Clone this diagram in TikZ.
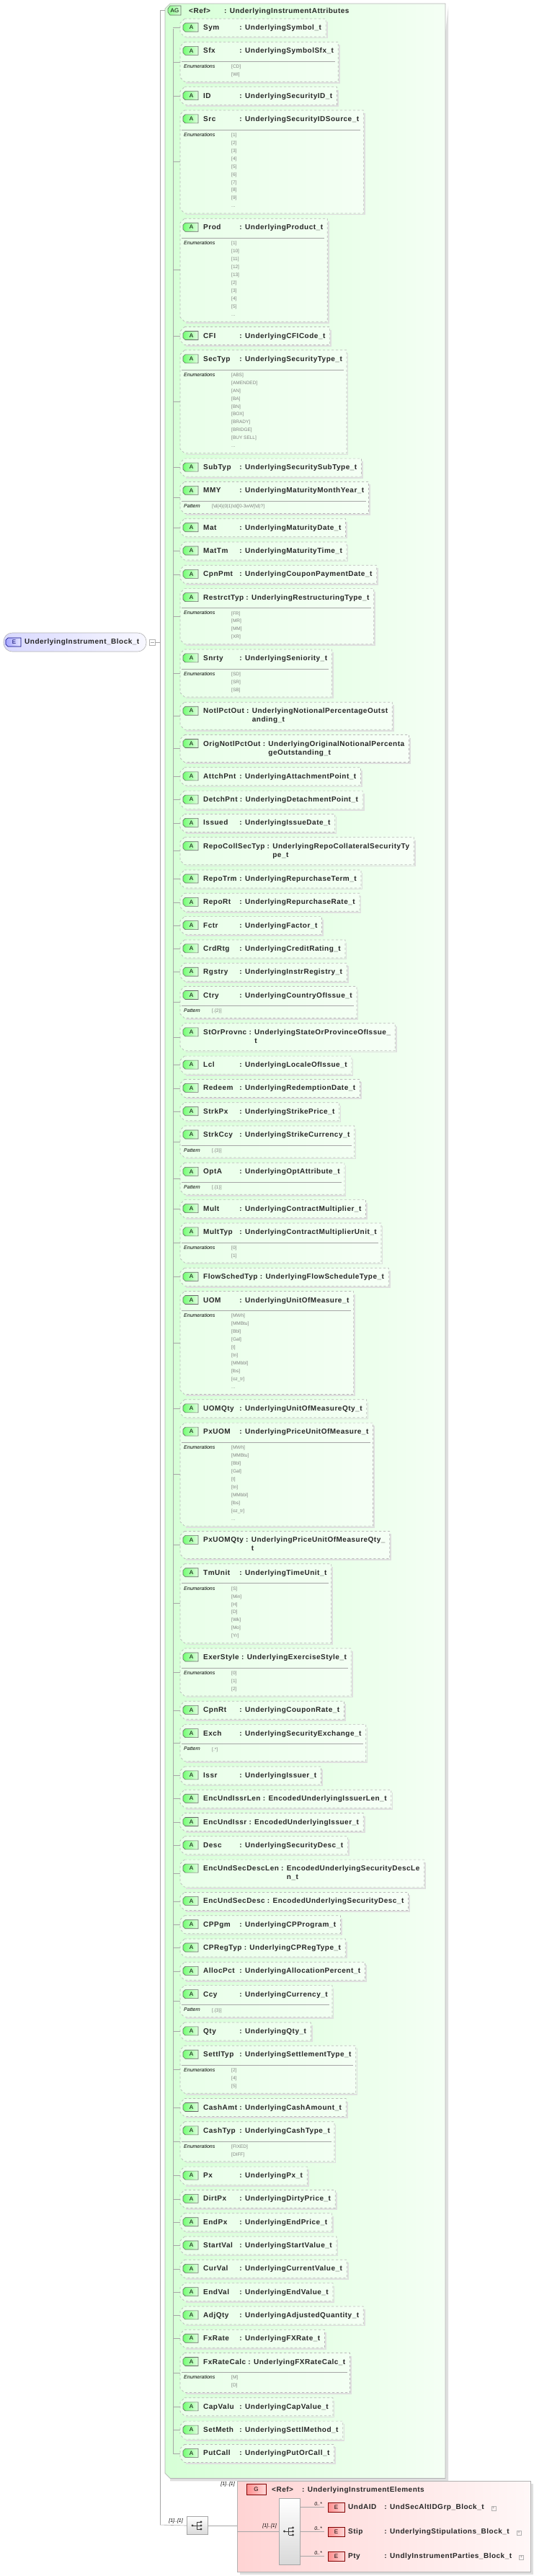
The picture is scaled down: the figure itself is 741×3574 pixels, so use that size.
\documentclass[tikz,border=0pt]{standalone}
\usepackage{fontspec}
\setmainfont{Liberation Sans}
\newfontfamily\ttlfont{Liberation Sans}[LetterSpace=5]
\usetikzlibrary{calc}
\pgfdeclarelayer{bg}\pgfdeclarelayer{boxes}\pgfsetlayers{bg,boxes,main}
\newlength\nmw
\newcommand\nm[1]{\settowidth\nmw{#1}\ifdim\nmw<47pt\nmw=47pt\fi\makebox[\nmw][l]{#1}\ }
\newcommand\ev[1]{[#1]}
\def\ycur{38}
\tikzset{
 ttl/.style={font=\ttlfont\bfseries\fontsize{10}{12}\selectfont, inner sep=0pt, text=black!85},
 enl/.style={font=\itshape\fontsize{7}{10.95}\selectfont, inner sep=0pt},
 env/.style={font=\fontsize{6.5}{10.95}\selectfont, text=gray, inner sep=0pt, align=left},
 abox/.style={draw=gray!55, dashed, fill=white, fill opacity=0.45, line width=0.7pt},
 shad/.style={draw=gray!25, line width=1.6pt},
 sep/.style={draw=gray!70, line width=0.6pt},
 conn/.style={draw=gray!70, line width=0.6pt},
 abadge/.style={draw=black!60, left color=green!55!white, right color=green!12!white, line width=0.6pt},
 ebadge/.style={draw=red!50!black, left color=red!45!white, right color=red!15!white, line width=0.6pt},
 bfont/.style={font=\fontsize{8}{8}\selectfont, inner sep=0pt},
 seqbox/.style={draw=gray!70, top color=white, bottom color=gray!30, line width=0.6pt, inner sep=0pt},
 card/.style={font=\itshape\fontsize{7}{8}\selectfont, inner sep=0pt},
}
\newcommand\attr[6]{%
 \pgfmathsetmacro\yt{\ycur}%
 \pgfmathsetmacro\ex{#6}%
 \pgfmathsetmacro\ytop{-\yt+12}%
 \pgfmathsetmacro\ybot{-\yt-13-\ex}%
 \node[ttl, anchor=base west] (#1t) at (282,-\yt-3.5) {\nm{#2}: \begin{tabular}[t]{@{}l@{}}#3\end{tabular}};
 \path let \p1=(#1t.east) in \pgfextra{\pgfmathsetmacro\xq{\x1+6}\xdef\xr{\xq}};
 \ifnum#4=1
  \node[enl, anchor=north west] (#1l) at (255,-\yt-19) {Enumerations};
  \node[env, anchor=north west] (#1d) at (321,-\yt-19.5) {#5};
 \fi
 \ifnum#4=2
  \node[enl, anchor=north west] (#1l) at (255,-\yt-19) {Pattern};
  \node[env, anchor=north west] (#1d) at (294,-\yt-19.5) {#5};
 \fi
 \ifnum#4>0
  \path let \p1=(#1d.east) in \pgfextra{\pgfmathsetmacro\xq{max(\xr,\x1+8)}\xdef\xr{\xq}};
 \fi
 \begin{pgfonlayer}{boxes}
  \draw[shad] (\xr+1.6,\ytop-4) -- (\xr+1.6,\ybot-1.6) -- (258,\ybot-1.6);
  \draw[abox] (256,\ytop) -- (\xr,\ytop) -- (\xr,\ybot) -- (256,\ybot) -- (250,\ybot+6) -- (250,\ytop-6) -- cycle;
  \ifnum#4>0 \draw[sep] (252,-\yt-15) -- (\xr-4,-\yt-15); \fi
 \end{pgfonlayer}
 \draw[abadge] (257,-\yt+6) -- (275,-\yt+6) -- (275,-\yt-6) -- (257,-\yt-6) -- (254,-\yt-3) -- (254,-\yt+3) -- cycle;
 \node[bfont] (#1b) at (265.5,-\yt) {A};
 \coordinate (#1c) at (250,{(\ytop+\ybot)/2});
 \draw[conn] (#1c -| spine) -- (#1c);
 \pgfmathsetmacro\lm{(\ytop+\ybot)/2}\xdef\lastmid{\lm}%
 \xdef\lastbot{\ybot}%
 \pgfmathsetmacro\nx{\yt+32.3+\ex}\xdef\ycur{\nx}%
}
\newcommand\elem[4]{% id, name, type, ycenter
 \node[ttl, anchor=base west] (#1t) at (483,-#4-3.5) {\nm{#2}: #3};
 \path let \p1=(#1t.east) in \pgfextra{\pgfmathsetmacro\xq{\x1+6}\xdef\xr{\xq}};
 \begin{pgfonlayer}{boxes}
  \draw[shad] (\xr+1.6,-#4+9) -- (\xr+1.6,-#4-14.6) -- (453,-#4-14.6);
  \draw[abox, fill=red!3] (450,-#4+13) rectangle (\xr,-#4-13);
 \end{pgfonlayer}
 \draw[ebadge] (455,-#4+6) rectangle (478,-#4-7);
 \node[bfont] (#1b) at (466.5,-#4-0.5) {E};
 \node[draw=gray!60, minimum size=6pt, inner sep=0pt, font=\fontsize{6}{6}\selectfont, text=gray] (#1p) at (\xr+7,-#4-2) {+};
 \coordinate (#1c) at (450,-#4);
 \draw[conn] (#1c -| iseq.east) -- (#1c);
 \node[card, anchor=south east] (#1k) at (447,-#4+1) {0..*};
}
\begin{document}
\begin{tikzpicture}[x=1pt,y=1pt]
\useasboundingbox (0,0) rectangle (741,-3574);
\coordinate (spine) at (240,0);
% header
\draw[abadge, left color=green!45!white, right color=green!15!white] (236,-8) -- (251,-8) -- (251,-21) -- (236,-21) -- (233,-17) -- (233,-12) -- cycle;
\node[bfont] (agb) at (242.5,-14.5) {AG};
\node[ttl, anchor=base west] (agref) at (262,-18) {<Ref>};
\node[ttl, anchor=base west] (agtype) at (311,-18) {: UnderlyingInstrumentAttributes};
% rows
\attr{sym}{Sym}{UnderlyingSymbol\_t}{0}{}{0}
\attr{sfx}{Sfx}{UnderlyingSymbolSfx\_t}{1}{\ev{CD}\\\ev{WI}}{8+22}
\attr{id}{ID}{UnderlyingSecurityID\_t}{0}{}{0}
\attr{src}{Src}{UnderlyingSecurityIDSource\_t}{1}{\ev{1}\\\ev{2}\\\ev{3}\\\ev{4}\\\ev{5}\\\ev{6}\\\ev{7}\\\ev{8}\\\ev{9}\\...}{8+110}
\attr{prod}{Prod}{UnderlyingProduct\_t}{1}{\ev{1}\\\ev{10}\\\ev{11}\\\ev{12}\\\ev{13}\\\ev{2}\\\ev{3}\\\ev{4}\\\ev{5}\\...}{8+110}
\attr{cfi}{CFI}{UnderlyingCFICode\_t}{0}{}{0}
\attr{sectyp}{SecTyp}{UnderlyingSecurityType\_t}{1}{\ev{ABS}\\\ev{AMENDED}\\\ev{AN}\\\ev{BA}\\\ev{BN}\\\ev{BOX}\\\ev{BRADY}\\\ev{BRIDGE}\\\ev{BUY SELL}\\...}{8+110}
\attr{subtyp}{SubTyp}{UnderlyingSecuritySubType\_t}{0}{}{0}
\attr{mmy}{MMY}{UnderlyingMaturityMonthYear\_t}{2}{[\textbackslash d\{4\}(0|1)\textbackslash d([0-3wW]\textbackslash d)?]}{19}
\attr{mat}{Mat}{UnderlyingMaturityDate\_t}{0}{}{0}
\attr{mattm}{MatTm}{UnderlyingMaturityTime\_t}{0}{}{0}
\attr{cpnpmt}{CpnPmt}{UnderlyingCouponPaymentDate\_t}{0}{}{0}
\attr{restrct}{RestrctTyp}{UnderlyingRestructuringType\_t}{1}{\ev{FR}\\\ev{MR}\\\ev{MM}\\\ev{XR}}{8+44}
\attr{snrty}{Snrty}{UnderlyingSeniority\_t}{1}{\ev{SD}\\\ev{SR}\\\ev{SB}}{8+33}
\attr{notl}{NotlPctOut}{UnderlyingNotionalPercentageOutst\\anding\_t}{0}{}{13}
\attr{orig}{OrigNotlPctOut}{UnderlyingOriginalNotionalPercenta\\geOutstanding\_t}{0}{}{13}
\attr{attch}{AttchPnt}{UnderlyingAttachmentPoint\_t}{0}{}{0}
\attr{detch}{DetchPnt}{UnderlyingDetachmentPoint\_t}{0}{}{0}
\attr{issued}{Issued}{UnderlyingIssueDate\_t}{0}{}{0}
\attr{repocoll}{RepoCollSecTyp}{UnderlyingRepoCollateralSecurityTy\\pe\_t}{0}{}{13}
\attr{repotrm}{RepoTrm}{UnderlyingRepurchaseTerm\_t}{0}{}{0}
\attr{report}{RepoRt}{UnderlyingRepurchaseRate\_t}{0}{}{0}
\attr{fctr}{Fctr}{UnderlyingFactor\_t}{0}{}{0}
\attr{crdrtg}{CrdRtg}{UnderlyingCreditRating\_t}{0}{}{0}
\attr{rgstry}{Rgstry}{UnderlyingInstrRegistry\_t}{0}{}{0}
\attr{ctry}{Ctry}{UnderlyingCountryOfIssue\_t}{2}{[.\{2\}]}{19}
\attr{stor}{StOrProvnc}{UnderlyingStateOrProvinceOfIssue\_\\t}{0}{}{13}
\attr{lcl}{Lcl}{UnderlyingLocaleOfIssue\_t}{0}{}{0}
\attr{redeem}{Redeem}{UnderlyingRedemptionDate\_t}{0}{}{0}
\attr{strkpx}{StrkPx}{UnderlyingStrikePrice\_t}{0}{}{0}
\attr{strkccy}{StrkCcy}{UnderlyingStrikeCurrency\_t}{2}{[.\{3\}]}{19}
\attr{opta}{OptA}{UnderlyingOptAttribute\_t}{2}{[.\{1\}]}{19}
\attr{mult}{Mult}{UnderlyingContractMultiplier\_t}{0}{}{0}
\attr{multtyp}{MultTyp}{UnderlyingContractMultiplierUnit\_t}{1}{\ev{0}\\\ev{1}}{8+22}
\attr{flow}{FlowSchedTyp}{UnderlyingFlowScheduleType\_t}{0}{}{0}
\attr{uom}{UOM}{UnderlyingUnitOfMeasure\_t}{1}{\ev{MWh}\\\ev{MMBtu}\\\ev{Bbl}\\\ev{Gal}\\\ev{t}\\\ev{tn}\\\ev{MMbbl}\\\ev{lbs}\\\ev{oz\_tr}\\...}{8+110}
\attr{uomqty}{UOMQty}{UnderlyingUnitOfMeasureQty\_t}{0}{}{0}
\attr{pxuom}{PxUOM}{UnderlyingPriceUnitOfMeasure\_t}{1}{\ev{MWh}\\\ev{MMBtu}\\\ev{Bbl}\\\ev{Gal}\\\ev{t}\\\ev{tn}\\\ev{MMbbl}\\\ev{lbs}\\\ev{oz\_tr}\\...}{8+110}
\attr{pxuomqty}{PxUOMQty}{UnderlyingPriceUnitOfMeasureQty\_\\t}{0}{}{13}
\attr{tmunit}{TmUnit}{UnderlyingTimeUnit\_t}{1}{\ev{S}\\\ev{Min}\\\ev{H}\\\ev{D}\\\ev{Wk}\\\ev{Mo}\\\ev{Yr}}{8+77}
\attr{exer}{ExerStyle}{UnderlyingExerciseStyle\_t}{1}{\ev{0}\\\ev{1}\\\ev{2}}{8+33}
\attr{cpnrt}{CpnRt}{UnderlyingCouponRate\_t}{0}{}{0}
\attr{exch}{Exch}{UnderlyingSecurityExchange\_t}{2}{[.*]}{26}
\attr{issr}{Issr}{UnderlyingIssuer\_t}{0}{}{0}
\attr{eissrlen}{EncUndIssrLen}{EncodedUnderlyingIssuerLen\_t}{0}{}{0}
\attr{eissr}{EncUndIssr}{EncodedUnderlyingIssuer\_t}{0}{}{0}
\attr{desc}{Desc}{UnderlyingSecurityDesc\_t}{0}{}{0}
\attr{edesclen}{EncUndSecDescLen}{EncodedUnderlyingSecurityDescLe\\n\_t}{0}{}{13}
\attr{edesc}{EncUndSecDesc}{EncodedUnderlyingSecurityDesc\_t}{0}{}{0}
\attr{cppgm}{CPPgm}{UnderlyingCPProgram\_t}{0}{}{0}
\attr{cpreg}{CPRegTyp}{UnderlyingCPRegType\_t}{0}{}{0}
\attr{alloc}{AllocPct}{UnderlyingAllocationPercent\_t}{0}{}{0}
\attr{ccy}{Ccy}{UnderlyingCurrency\_t}{2}{[.\{3\}]}{19}
\attr{qty}{Qty}{UnderlyingQty\_t}{0}{}{0}
\attr{settl}{SettlTyp}{UnderlyingSettlementType\_t}{1}{\ev{2}\\\ev{4}\\\ev{5}}{8+33}
\attr{cashamt}{CashAmt}{UnderlyingCashAmount\_t}{0}{}{0}
\attr{cashtyp}{CashTyp}{UnderlyingCashType\_t}{1}{\ev{FIXED}\\\ev{DIFF}}{8+22}
\attr{px}{Px}{UnderlyingPx\_t}{0}{}{0}
\attr{dirtpx}{DirtPx}{UnderlyingDirtyPrice\_t}{0}{}{0}
\attr{endpx}{EndPx}{UnderlyingEndPrice\_t}{0}{}{0}
\attr{startval}{StartVal}{UnderlyingStartValue\_t}{0}{}{0}
\attr{curval}{CurVal}{UnderlyingCurrentValue\_t}{0}{}{0}
\attr{endval}{EndVal}{UnderlyingEndValue\_t}{0}{}{0}
\attr{adjqty}{AdjQty}{UnderlyingAdjustedQuantity\_t}{0}{}{0}
\attr{fxrate}{FxRate}{UnderlyingFXRate\_t}{0}{}{0}
\attr{fxcalc}{FxRateCalc}{UnderlyingFXRateCalc\_t}{1}{\ev{M}\\\ev{D}}{8+22}
\attr{capvalu}{CapValu}{UnderlyingCapValue\_t}{0}{}{0}
\attr{setmeth}{SetMeth}{UnderlyingSettlMethod\_t}{0}{}{0}
\attr{putcall}{PutCall}{UnderlyingPutOrCall\_t}{0}{}{0}
% spine
\draw[conn] (240,-40) -- (240,\lastmid);
% green group background
\pgfmathsetmacro\gb{\lastbot-22}
\begin{pgfonlayer}{bg}
 \fill[gray!25] (622,-9) -- (622,\gb-4) -- (236,\gb-4) -- cycle;
 \draw[draw=gray!60, line width=0.7pt, left color=green!16!white, right color=green!4!white] (236,-5) -- (618,-5) -- (618,\gb) -- (236,\gb) -- (229,\gb+7) -- (229,-12) -- cycle;
\end{pgfonlayer}
% root
\node[draw=gray!60, rounded corners=12pt, left color=blue!15!white, right color=blue!3!white, minimum height=26pt, minimum width=198pt, inner sep=0pt, line width=0.6pt] (root) at (104,-891) {};
\draw[draw=blue!50!black, left color=blue!35!white, right color=blue!10!white, line width=0.6pt] (11,-885) -- (29,-885) -- (29,-897) -- (11,-897) -- (8,-894) -- (8,-888) -- cycle;
\node[bfont, text=blue!40!black] (rootb) at (19.5,-891) {E};
\node[ttl, anchor=west] (roott) at (34,-891) {UnderlyingInstrument\_Block\_t};
\node[draw=gray!60, minimum size=8pt, inner sep=0pt] (rootm) at (211,-891) {};
\draw[gray!70] (208.5,-891) -- (213.5,-891);
\coordinate (vtop) at (222,-14);
\coordinate (vbot) at (222,-3503);
\draw[conn] (rootm.east) -- (rootm.east -| vtop);
\draw[conn] (agb.west -| vtop) -- (vbot);
\draw[conn] (vtop) -- (229,-14);
% outer sequence
\node[seqbox, minimum width=29pt, minimum height=25pt] (oseq) at (274,-3504) {};
\node[card, anchor=south east] (oseqk) at (254,-3501) {[1]..[1]};
\draw[conn] (vbot) -- (oseq.west);
% pink group
\fill[gray!25] (333,-3446) rectangle (740,-3572);
\node[draw=gray!60, left color=red!17!white, right color=red!3!white, minimum width=407pt, minimum height=126pt, inner sep=0pt, anchor=north west, line width=0.7pt] (pink) at (329,-3442) {};
\node[card, anchor=south east] (pinkk) at (326,-3450) {[1]..[1]};
\draw[conn] (oseq.east) -- (oseq.east -| pink.west);
\draw[ebadge] (342,-3446) rectangle (369,-3461);
\node[bfont] (gb) at (355.5,-3453.5) {G};
\node[ttl, anchor=base west] (gref) at (377,-3457) {<Ref>};
\node[ttl, anchor=base west] (gtype) at (419,-3457) {: UnderlyingInstrumentElements};
\node[seqbox, minimum width=29pt, minimum height=92pt, anchor=north west] (iseq) at (387,-3466) {};
\node[card, anchor=south east] (iseqk) at (384,-3508) {[1]..[1]};
\draw[conn] (pink.west |- 0,-3512) -- (iseq.west |- 0,-3512);
\foreach \s/\cx/\cy in {o/274/-3504, i/401.5/-3512}{
 \fill[black!75] (\cx-7,\cy) circle (1.6pt);
 \draw[black!75, line width=0.7pt] (\cx-7,\cy) -- (\cx-1,\cy) (\cx-1,\cy+5) -- (\cx-1,\cy-5) (\cx-1,\cy+5) -- (\cx+4,\cy+5) (\cx-1,\cy) -- (\cx+4,\cy) (\cx-1,\cy-5) -- (\cx+4,\cy-5);
 \fill[black!75] (\cx+5,\cy+5) circle (1.6pt) (\cx+5,\cy) circle (1.6pt) (\cx+5,\cy-5) circle (1.6pt);
}
\elem{undaid}{UndAID}{UndSecAltIDGrp\_Block\_t}{3478}
\elem{stip}{Stip}{UnderlyingStipulations\_Block\_t}{3512}
\elem{pty}{Pty}{UndlyInstrumentParties\_Block\_t}{3546}
\end{tikzpicture}
\end{document}
